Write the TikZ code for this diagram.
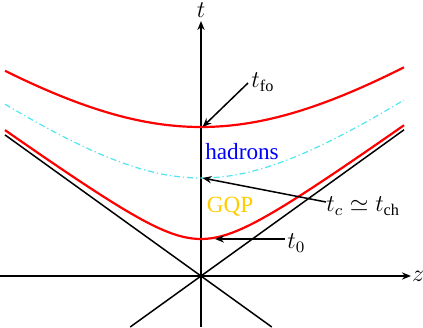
\documentclass[tikz,border=0pt]{standalone}
\usepackage{fontspec}
\setmainfont{Liberation Serif}
\usetikzlibrary{arrows.meta}

\definecolor{gqpgold}{RGB}{255,204,0}
\definecolor{critcyan}{RGB}{80,230,240}

\tikzset{
    axis/.style={-{Stealth[length=4.5pt,width=3.6pt]}, line width=0.75pt},
    cone/.style={line width=0.75pt},
    freeze/.style={red, line width=1.1pt},
    crit/.style={critcyan, line width=0.6pt, dash pattern=on 3pt off 1.5pt on 0.6pt off 1.5pt},
    pointer/.style={-{Stealth[length=4.5pt,width=3.6pt]}, line width=0.75pt},
    lbl/.style={font=\fontsize{11.6}{13}\selectfont, inner sep=0pt}
}

\begin{document}
\begin{tikzpicture}[x=5pt, y=5pt, lbl]
    \useasboundingbox (-20.1,-5.1) rectangle (22.2,27.6);

    % axes
    \draw[axis] (-20.1,0) -- (21.0,0);
    \draw[axis] (0,-5.1) -- (0,25.5);
    \node[lbl] (zlab) at (21.7,0) {\(z\)};
    \node[lbl] (tlab) at (0,26.6) {\(t\)};

    % light cone
    \draw[cone] (-19.6,14.11) -- (7.08,-5.1);
    \draw[cone] (-7.08,-5.1) -- (20.3,14.62);

    % hyperbolae
    \draw[freeze, domain=-19.6:20.3, samples=80] plot (\x, {sqrt(3.7^2+(0.72*\x)^2)});
    \draw[crit, domain=-19.6:20.3, samples=80] plot (\x, {sqrt(9.8^2+(0.72*\x)^2)});
    \draw[freeze, domain=-19.6:20.3, samples=80] plot (\x, {sqrt(14.9^2+(0.72*\x)^2)});

    \coordinate (fo) at (0.15,14.9);
    \coordinate (c) at (0.15,9.8);
    \coordinate (o) at (1.4,3.7);

    % labels
    \node[lbl, anchor=west] (lfo) at (5.0,19.4) {\(t_{\mathrm{fo}}\)};
    \node[lbl, anchor=west] (lc) at (12.5,7.0) {\(t_c \simeq t_{\mathrm{ch}}\)};
    \node[lbl, anchor=west] (lo) at (8.6,3.3) {\(t_0\)};
    \node[lbl, blue] (had) at (4.1,12.4) {hadrons};
    \node[lbl, gqpgold] (gqp) at (2.9,6.9) {GQP};

    \draw[pointer] (lfo.west) ++(-0.3,-0.1) -- (fo);
    \draw[pointer] (lc.west) ++(0,0.4) -- (c);
    \draw[pointer] (lo.west) ++(-0.2,0.4) -- (o);
\end{tikzpicture}
\end{document}
